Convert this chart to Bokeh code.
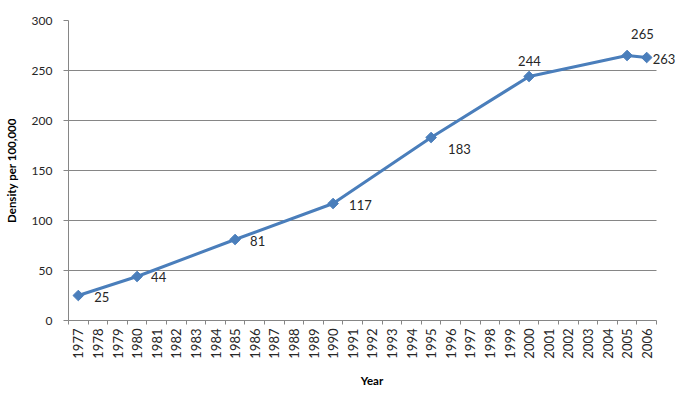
import math
from bokeh.plotting import figure
from bokeh.models import ColumnDataSource, FixedTicker, Range1d, Label, Title
from bokeh.embed import file_html
from bokeh.resources import INLINE

# ---- data ----
all_years = list(range(1977, 2007))
years = [1977, 1980, 1985, 1990, 1995, 2000, 2005, 2006]
density = [25, 44, 81, 117, 183, 244, 265, 263]
y_ticks = [0, 50, 100, 150, 200, 250, 300]

# label placement (style): screen offsets from each point (left-aligned text)
label_dx = [16, 14, 15, 16, 17, -11, 4, 6]
label_dy = [-1, 0, -1, -1, -11, 16, 22, -1]

FONT = "Lato"
LINE = "#4A7EBB"
GRID = "#868686"
TXT = "#262626"

# layout (style)
W, H = 677, 397
B_LEFT, B_RIGHT, B_TOP, B_BOTTOM = 68, 2, 20, 77
AXIS_PX = 588  # pixel width occupied by the category axis
frame_w = W - B_LEFT - B_RIGHT
x0 = all_years[0] - 0.5
x1 = all_years[-1] + 0.5
x_end = x0 + (x1 - x0) * frame_w / AXIS_PX

src = ColumnDataSource(dict(x=years, y=density))

p = figure(width=W, height=H, output_backend="svg", toolbar_location=None,
           x_range=Range1d(x0, x_end),
           y_range=Range1d(y_ticks[0], y_ticks[-1]),
           min_border_left=B_LEFT, min_border_right=B_RIGHT,
           min_border_top=B_TOP, min_border_bottom=B_BOTTOM)
p.outline_line_color = None
p.background_fill_color = "white"
p.border_fill_color = "white"

# x axis
xa = p.xaxis[0]
xa.bounds = (x0, x1)
xa.ticker = FixedTicker(ticks=all_years,
                        minor_ticks=[y - 0.5 for y in all_years] + [x1])
xa.major_label_overrides = {y: str(y) for y in all_years}
xa.major_label_orientation = math.pi / 2
xa.major_tick_line_color = None
xa.major_tick_out = 0
xa.major_tick_in = 0
xa.minor_tick_line_color = GRID
xa.minor_tick_out = 4
xa.minor_tick_in = 0
xa.axis_line_color = GRID
xa.major_label_text_font = FONT
xa.major_label_text_font_size = "13px"
xa.major_label_text_color = TXT
xa.major_label_standoff = 4

p.add_layout(Title(text="Year", align="center", standoff=20,
                   offset=-(frame_w - AXIS_PX) / 2,
                   text_font=FONT, text_font_size="11.5px",
                   text_font_style="bold", text_color="#000000"), "below")

# y axis
ya = p.yaxis[0]
ya.ticker = FixedTicker(ticks=y_ticks)
ya.minor_tick_line_color = None
ya.major_tick_line_color = GRID
ya.major_tick_out = 5
ya.major_tick_in = 0
ya.axis_line_color = GRID
ya.major_label_text_font = FONT
ya.major_label_text_font_size = "12px"
ya.major_label_text_color = TXT
ya.major_label_standoff = 11
ya.axis_label = "Density per 100,000"
ya.axis_label_text_font = FONT
ya.axis_label_text_font_size = "11.5px"
ya.axis_label_text_font_style = "bold"
ya.axis_label_text_color = "#000000"
ya.axis_label_standoff = 11

p.xgrid.grid_line_color = None
p.ygrid.grid_line_color = GRID
p.ygrid.grid_line_width = 1
p.ygrid.cross_bounds = (x0, x1)

p.line("x", "y", source=src, line_color=LINE, line_width=3)
p.scatter("x", "y", source=src, marker="square", angle=math.pi / 4, size=7.5,
          fill_color=LINE, line_color=LINE)

for xv, yv, dx, dy in zip(years, density, label_dx, label_dy):
    p.add_layout(Label(x=xv, y=yv, text=str(yv), x_offset=dx, y_offset=dy,
                       text_font=FONT, text_font_size="13px", text_color=TXT,
                       text_align="left", text_baseline="middle"))

open("out.html", "w").write(file_html(p, INLINE))
